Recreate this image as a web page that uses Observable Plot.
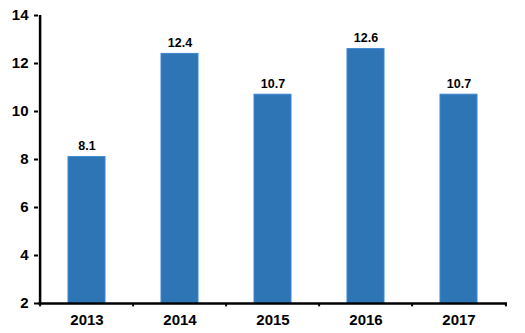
<!DOCTYPE html>
<html>
<head>
<meta charset="utf-8">
<script src="https://cdn.jsdelivr.net/npm/d3@7"></script>
<script src="https://cdn.jsdelivr.net/npm/@observablehq/plot@0.6"></script>
<style>
  html, body { margin: 0; padding: 0; background: #fff; }
  #chart svg { display: block; }
</style>
</head>
<body>
<div id="chart"></div>
<script>
const years = ["2013", "2014", "2015", "2016", "2017"];
const values = [8.1, 12.4, 10.7, 12.6, 10.7];
const yTicks = [2, 4, 6, 8, 10, 12, 14];

const data = years.map((y, i) => ({year: y, value: values[i]}));

const W = 525, H = 333;
const mL = 38, mR = 18, mT = 15, mB = 30;
const step = (W - mL - mR) / years.length;

const chart = Plot.plot({
  width: W,
  height: H,
  marginLeft: mL,
  marginRight: mR,
  marginTop: mT,
  marginBottom: mB,
  style: {fontFamily: "'Liberation Sans', Arial, sans-serif", fontWeight: "bold", fontSize: "15px", color: "#000", background: "#fff"},
  x: {domain: years, paddingInner: 0.6, paddingOuter: 0.3, label: null},
  y: {domain: [2, 14], label: null},
  marks: [
    Plot.barY(data, {x: "year", y1: 2, y2: "value", fill: "#2E75B6", stroke: "#3B87CF", strokeWidth: 1}),
    Plot.text(data, {x: "year", y: "value", text: d => d.value.toFixed(1), lineAnchor: "bottom", dy: -7, fontSize: 12.5, fontWeight: "bold", fill: "#000"}),
    Plot.axisY({ticks: yTicks, tickSize: 4, tickPadding: 6, strokeWidth: 2, fontSize: 15, fontWeight: "bold"}),
    Plot.axisX({tickSize: 0, tickPadding: 11, fontSize: 15, fontWeight: "bold"}),
    Plot.ruleX(years, {x: d => d, dx: -step / 2, y1: 2, y2: 1.86, stroke: "#000", strokeWidth: 2}),
    Plot.ruleX([years[years.length - 1]], {x: d => d, dx: step / 2, y1: 2, y2: 1.86, stroke: "#000", strokeWidth: 2}),
    Plot.ruleY([2], {stroke: "#000", strokeWidth: 2.5}),
    Plot.ruleX([0], {x: () => years[0], dx: -step / 2, y1: 2, y2: 14, stroke: "#000", strokeWidth: 2.5})
  ]
});
document.getElementById("chart").appendChild(chart);
</script>
</body>
</html>
